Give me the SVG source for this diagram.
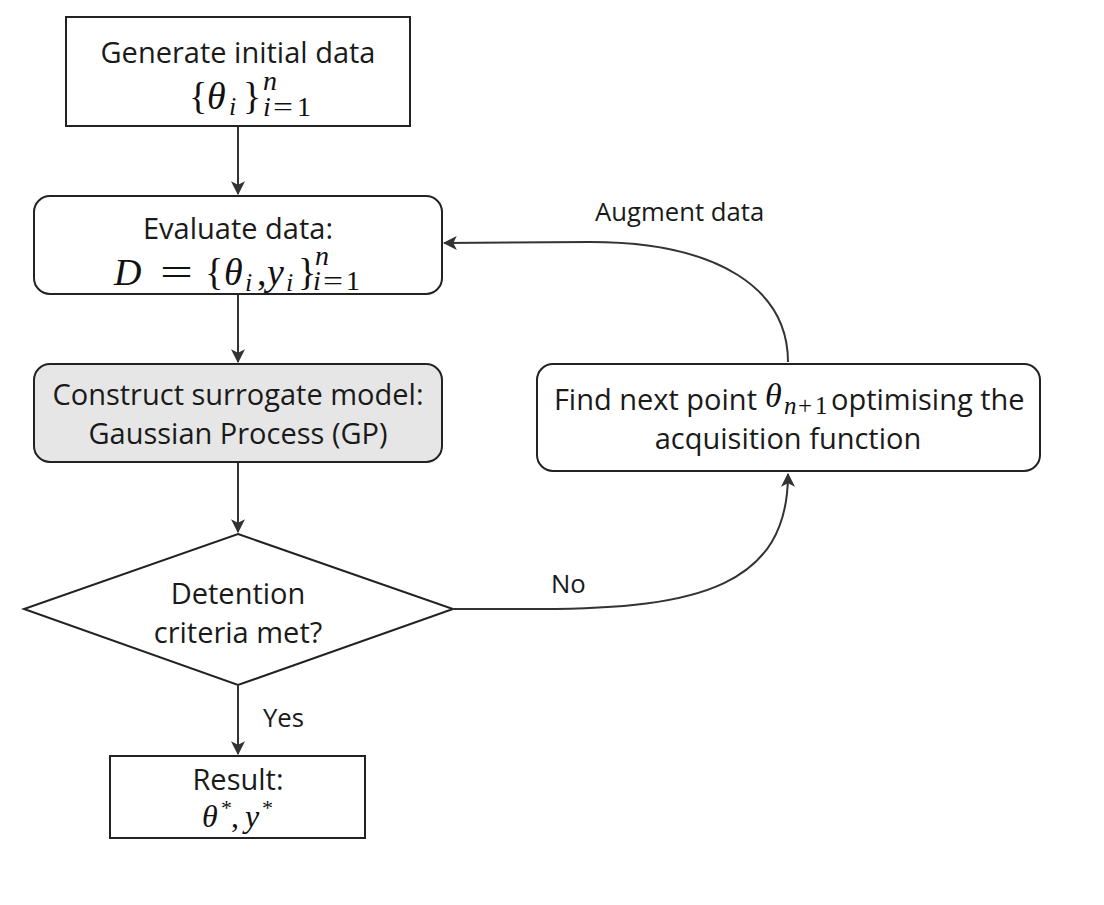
<svg xmlns="http://www.w3.org/2000/svg" width="1104" height="905" viewBox="0 0 1104 905">
<defs>
<marker id="ah" viewBox="0 0 12 12" refX="11" refY="6" markerWidth="14" markerHeight="14" markerUnits="userSpaceOnUse" orient="auto">
<path d="M0,0 L12,6 L0,12 L3,6 Z" fill="#333"/>
</marker>
<style>
.box{fill:#fff;stroke:#222;stroke-width:2}
.grey{fill:#e6e6e6}
.t{font-family:"Open Sans","Noto Sans",sans-serif;font-size:29px;fill:#1a1a1a}
.mid{text-anchor:middle}
.end{text-anchor:end}
.l{font-family:"Open Sans","Noto Sans",sans-serif;font-size:25.7px;fill:#1a1a1a}
.m{font-family:"Liberation Serif","DejaVu Serif",serif;fill:#111}
.i{font-style:italic}
.c{fill:none;stroke:#333;stroke-width:2}
</style>
</defs>
<rect width="1104" height="905" fill="#fff"/>
<g id="connectors">
<line class="c" x1="238" y1="127" x2="238" y2="194" marker-end="url(#ah)"/>
<line class="c" x1="238" y1="295" x2="238" y2="362" marker-end="url(#ah)"/>
<line class="c" x1="238" y1="463" x2="238" y2="532" marker-end="url(#ah)"/>
<line class="c" x1="238" y1="686" x2="238" y2="754" marker-end="url(#ah)"/>
<path class="c" d="M454,609 L540,609 C700,609 788,585 788,474" marker-end="url(#ah)"/>
<path class="c" d="M788,362 C788,290 720,242 590,242 L444,243" marker-end="url(#ah)"/>
<text class="l" x="551" y="593">No</text>
<text class="l" x="263" y="727">Yes</text>
<text class="l" x="595" y="221">Augment data</text>
</g>
<g id="n1">
<rect class="box" x="66" y="17" width="344" height="109"/>
<text class="t mid" x="238" y="63">Generate initial data</text>
<text class="m" font-size="38" y="109"><tspan x="189">{</tspan><tspan class="i" x="207">θ</tspan><tspan x="243">}</tspan></text>
<text class="m i" font-size="26" x="229" y="115">i</text>
<text class="m i" font-size="28" x="263" y="90">n</text>
<text class="m" font-size="28" y="116"><tspan class="i" x="263">i</tspan><tspan x="297">1</tspan></text>
<text class="m" font-size="28" x="273" y="116" textLength="20" lengthAdjust="spacingAndGlyphs">=</text>
</g>
<g id="n2">
<rect class="box" x="34" y="196" width="408" height="98" rx="16"/>
<text class="t mid" x="238" y="239">Evaluate data:</text>
<text class="m" font-size="38" y="285"><tspan class="i" x="114">D</tspan><tspan x="205">{</tspan><tspan class="i" x="224">θ</tspan><tspan x="257">,</tspan><tspan class="i" x="267">y</tspan><tspan x="298">}</tspan></text>
<text class="m" font-size="38" x="160" y="285" textLength="33" lengthAdjust="spacingAndGlyphs">=</text>
<text class="m i" font-size="26" y="291"><tspan x="245">i</tspan><tspan x="286">i</tspan></text>
<text class="m i" font-size="28" x="315" y="265">n</text>
<text class="m" font-size="28" y="290"><tspan class="i" x="313">i</tspan><tspan x="346">1</tspan></text>
<text class="m" font-size="28" x="323" y="290" textLength="20" lengthAdjust="spacingAndGlyphs">=</text>
</g>
<g id="n3">
<rect class="box grey" x="34" y="364" width="408" height="98" rx="16"/>
<text class="t mid" x="238" y="405">Construct surrogate model:</text>
<text class="t mid" x="238" y="444">Gaussian Process (GP)</text>
</g>
<g id="n4">
<path class="box" d="M238,534 L453,609 L238,685 L24,609 Z"/>
<text class="t mid" x="238" y="604">Detention</text>
<text class="t mid" x="238" y="643">criteria met?</text>
</g>
<g id="n5">
<rect class="box" x="110" y="756" width="255" height="82"/>
<text class="t mid" x="238" y="790">Result:</text>
<text class="m" font-size="32" y="827"><tspan class="i" x="202">θ</tspan><tspan x="231">,</tspan><tspan class="i" x="245">y</tspan></text>
<text class="m" font-size="22" y="815"><tspan x="221">*</tspan><tspan x="262">*</tspan></text>
</g>
<g id="n6">
<rect class="box" x="537" y="364" width="503" height="107" rx="16"/>
<text class="t end" x="757" y="410">Find next point</text>
<text class="m i" font-size="34" x="765" y="407">θ</text>
<text class="m" font-size="25" y="414"><tspan class="i" x="784">n</tspan><tspan x="798">+</tspan><tspan x="815">1</tspan></text>
<text class="t" x="831" y="410">optimising the</text>
<text class="t mid" x="788" y="449">acquisition function</text>
</g>
</svg>
